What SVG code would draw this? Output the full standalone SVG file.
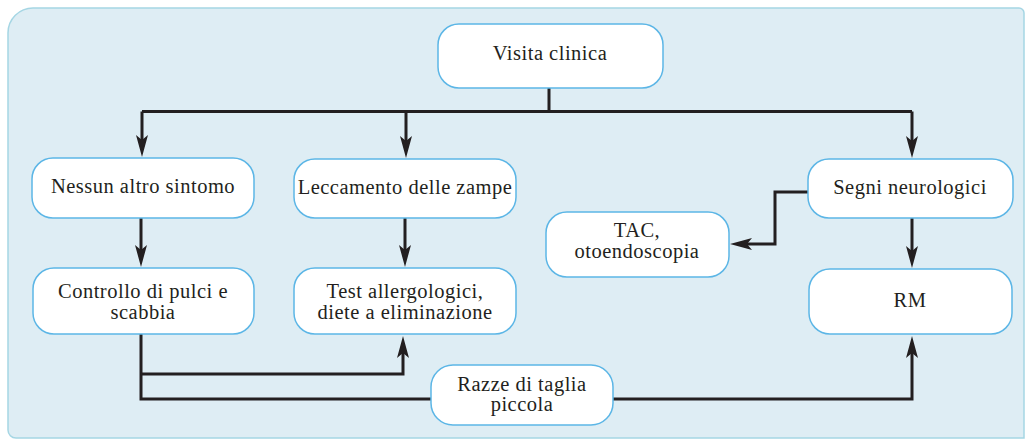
<svg xmlns="http://www.w3.org/2000/svg" width="1025" height="439" viewBox="0 0 1025 439">
<style>
.node rect{fill:#ffffff;stroke:#5cb6e6;stroke-width:1.5}
.node text{font-size:20.5px;letter-spacing:0.5px;fill:#231f20;text-anchor:middle}
.conn path{fill:none;stroke:#231f20;stroke-width:3;stroke-linejoin:miter}
</style>
<defs>
<marker id="arr" viewBox="0 0 22 12" refX="8" refY="6" markerWidth="22" markerHeight="12" markerUnits="userSpaceOnUse" orient="auto">
<path d="M0,0 L22,6 L0,12 L5,6 Z" fill="#231f20"/>
</marker>
</defs>
<path id="panel" d="M8,33 A25,25 0 0 1 33,8 L1019,8 A5,5 0 0 1 1024,13 L1024,438 L16,438 A8,8 0 0 1 8,430 Z" fill="#deedf4" stroke="#a5d6e4" stroke-width="1.5"/>
<g id="connectors" class="conn">
<path d="M549,88 V111.5"/>
<path d="M142,111.5 H912"/>
<path d="M142,111.5 V143" marker-end="url(#arr)"/>
<path d="M406,111.5 V144" marker-end="url(#arr)"/>
<path d="M912,111.5 V144" marker-end="url(#arr)"/>
<path d="M141,218 V253" marker-end="url(#arr)"/>
<path d="M405,218 V253" marker-end="url(#arr)"/>
<path d="M912,218 V254" marker-end="url(#arr)"/>
<path d="M808,192 H775 V244 H744" marker-end="url(#arr)"/>
<path d="M141,334 V399 H431"/>
<path d="M141,374 H403 V350" marker-end="url(#arr)"/>
<path d="M613,399 H912 V350" marker-end="url(#arr)"/>
</g>
<g font-family="Liberation Serif, Times New Roman, serif">
<g id="visita" class="node"><rect x="438" y="24" width="225" height="64" rx="21"/><text x="550" y="60">Visita clinica</text></g>
<g id="nessun" class="node"><rect x="32" y="158" width="222" height="60" rx="21"/><text x="143" y="193">Nessun altro sintomo</text></g>
<g id="leccamento" class="node"><rect x="294" y="159" width="222" height="59" rx="21"/><text x="405" y="194">Leccamento delle zampe</text></g>
<g id="segni" class="node"><rect x="808" y="159" width="205" height="59" rx="21"/><text x="910" y="194">Segni neurologici</text></g>
<g id="tac" class="node"><rect x="546" y="212" width="183" height="65" rx="21"/><text x="637" y="237">TAC,</text><text x="637" y="258">otoendoscopia</text></g>
<g id="controllo" class="node"><rect x="33" y="268" width="221" height="66" rx="21"/><text x="143" y="298">Controllo di pulci e</text><text x="143" y="319">scabbia</text></g>
<g id="test" class="node"><rect x="294" y="268" width="222" height="66" rx="21"/><text x="405" y="298">Test allergologici,</text><text x="405" y="319">diete a eliminazione</text></g>
<g id="rm" class="node"><rect x="809" y="269" width="203" height="65" rx="21"/><text x="910" y="307">RM</text></g>
<g id="razze" class="node"><rect x="431" y="365" width="182" height="60" rx="22"/><text x="522" y="391">Razze di taglia</text><text x="522" y="411">piccola</text></g>
</g>
</svg>
